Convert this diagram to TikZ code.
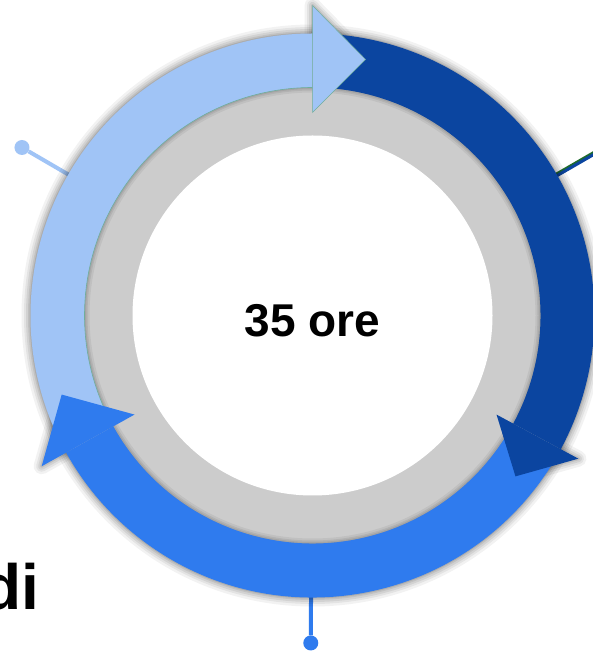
\documentclass[tikz,border=0pt]{standalone}
\usepackage{fontspec}
\setmainfont{Liberation Sans}
\begin{document}
\begin{tikzpicture}[x=1pt,y=1pt,
  connector/.style={line width=4pt},
  enddot/.style={circle, inner sep=0pt, minimum size=15pt},
  softshade/.style={black, line join=round},
  label/.style={inner sep=0pt, font=\bfseries}
]
\definecolor{lightarc}{HTML}{A0C4F6}
\definecolor{darkarc}{HTML}{0B45A0}
\definecolor{midarc}{HTML}{2F7BEE}
\definecolor{ringgrey}{HTML}{CCCCCC}
\definecolor{tealedge}{HTML}{6FAE9C}
\definecolor{leafgreen}{HTML}{1E6B2C}

\useasboundingbox (0,0) rectangle (593,653);
\fill[white] (0,0) rectangle (593,653);
\clip (0,0) rectangle (593,653);

% large cut-off word at the lower left
\node[label, anchor=base east, font=\bfseries\fontsize{64}{70}\selectfont] (word) at (39.5,43) {di};

\begin{scope}[shift={(312.5,337.5)}]
  % leader lines with end dots
  \node[enddot, fill=lightarc] (ldot) at (149.96:335.6) {};
  \coordinate (lfoot) at (150:281);
  \draw[connector, lightarc] (lfoot) -- (ldot);

  \node[enddot, fill=darkarc] (rdot) at (30:336) {};
  \coordinate (rfoot) at (30:281);
  \draw[line width=4pt, leafgreen] (rfoot) -- (rdot);
  \draw[line width=3pt, darkarc, transform canvas={shift={(0.6,-1.0)}}] (rfoot) -- (rdot);

  \node[enddot, fill=midarc] (bdot) at (269.7:327.5) {};
  \coordinate (bfoot) at (269.7:281);
  \draw[connector, midarc] (bfoot) -- (bdot);

  % soft shadow around the arrow ring
  \foreach \w/\o in {18/0.05, 13/0.06, 9/0.07, 5/0.08, 2/0.10}
    \draw[softshade, opacity=\o, line width=\w pt] (0,0) circle[radius=282];

  % soft shadow around the arrow heads
  \foreach \w/\o in {16/0.05, 11/0.06, 7/0.07, 3/0.09} {
    \draw[softshade, opacity=\o, line width=\w pt] (90:203) -- (90:310) -- (78.3:261.5) -- cycle;
    \draw[softshade, opacity=\o, line width=\w pt] (-28.3:209) -- (-28.3:302) -- (-38.4:259) -- cycle;
    \draw[softshade, opacity=\o, line width=\w pt] (209.1:203.7) -- (209.1:310) -- (197.5:263) -- cycle;
  }

  % grey ring and white centre
  \fill[ringgrey] (0,0) circle[radius=229];
  \foreach \w/\o in {12/0.06, 8/0.07, 5/0.08, 2/0.10}
    \draw[softshade, opacity=\o, line width=\w pt] (0,0) circle[radius=229];
  \node[circle, fill=white, inner sep=0pt, minimum size=360pt] (core) at (0,0) {};

  % arrow shafts
  \fill[lightarc] (204:282) arc[start angle=204, end angle=90, radius=282]
    -- (90:228) arc[start angle=90, end angle=204, radius=228] -- cycle;
  \draw[tealedge, line width=0.6pt] (90:228) arc[start angle=90, end angle=204, radius=228];
  \fill[darkarc] (89:282) arc[start angle=89, end angle=-28.3, radius=282]
    -- (-28.3:228) arc[start angle=-28.3, end angle=89, radius=228] -- cycle;
  \fill[midarc] (-32:282) arc[start angle=-32, end angle=-150.9, radius=282]
    -- (-150.9:228) arc[start angle=-150.9, end angle=-32, radius=228] -- cycle;

  % arrow heads
  \filldraw[fill=lightarc, draw=tealedge, line width=0.5pt] (90:203) -- (90:310) -- (78.3:261.5) -- cycle;
  \fill[darkarc] (-28.3:209) -- (-28.3:302) -- (-38.4:259) -- cycle;
  \fill[midarc] (209.1:203.7) -- (209.1:310) -- (197.5:263) -- cycle;

  % centre label
  \node[label, anchor=base, font=\bfseries\fontsize{46}{50}\selectfont] (hours) at (0,-21.5) {35 ore};
\end{scope}
\end{tikzpicture}
\end{document}
